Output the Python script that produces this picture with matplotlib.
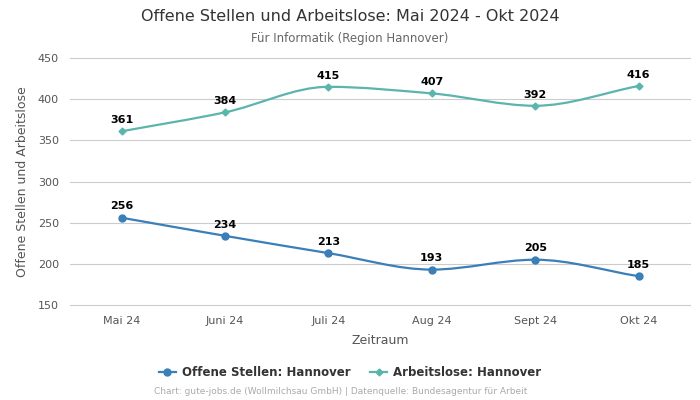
import numpy as np
import matplotlib.pyplot as plt
from matplotlib.path import Path
from matplotlib.patches import PathPatch
from matplotlib.lines import Line2D

# ==========================
# DATA
# ==========================
months = ["Mai 24", "Juni 24", "Juli 24", "Aug 24", "Sept 24", "Okt 24"]
offene_stellen = [256, 234, 213, 193, 205, 185]
arbeitslose = [361, 384, 415, 407, 392, 416]

BLUE = "#3a7fb8"
TEAL = "#5bb5ad"


def monotone_path(x, y):
    # monotone cubic (Fritsch-Carlson) as bezier path
    x = np.asarray(x, float)
    y = np.asarray(y, float)
    h = np.diff(x)
    d = np.diff(y) / h
    m = np.zeros_like(y)
    m[0], m[-1] = d[0], d[-1]
    for i in range(1, len(y) - 1):
        if d[i - 1] * d[i] <= 0:
            m[i] = 0
        else:
            m[i] = 3 * (h[i - 1] + h[i]) / ((2 * h[i] + h[i - 1]) / d[i - 1] + (h[i] + 2 * h[i - 1]) / d[i])
    verts = [(x[0], y[0])]
    codes = [Path.MOVETO]
    for i in range(len(x) - 1):
        verts += [(x[i] + h[i] / 3, y[i] + m[i] * h[i] / 3),
                  (x[i + 1] - h[i] / 3, y[i + 1] - m[i + 1] * h[i] / 3),
                  (x[i + 1], y[i + 1])]
        codes += [Path.CURVE4] * 3
    return Path(verts, codes)


fig = plt.figure(figsize=(7, 4), dpi=100)
ax = fig.add_axes([0.1, 0.2375, 0.886, 0.6175])

xs = np.arange(len(months))
for vals, color, marker, ms in [(offene_stellen, BLUE, "o", 5), (arbeitslose, TEAL, "D", 3.5)]:
    ax.add_patch(PathPatch(monotone_path(xs, vals), fill=False, edgecolor=color, lw=1.6))
    ax.plot(xs, vals, linestyle="none", marker=marker, color=color, markersize=ms, zorder=3)
    for x, v in zip(xs, vals):
        ax.annotate(str(v), (x, v), xytext=(0, 4.5), textcoords="offset points",
                    ha="center", va="bottom", fontsize=8, fontweight="bold", color="black")

ax.set_xlim(-0.5, 5.5)
ax.set_ylim(150, 450)
ax.set_yticks(range(150, 451, 50))
ax.set_xticks(xs)
ax.set_xticklabels(months)
ax.tick_params(axis="both", length=0, labelsize=8, colors="#555555", pad=8)
ax.grid(axis="y", color="#cccccc", linewidth=0.8)
for gl in ax.get_ygridlines():
    gl.set_clip_on(False)
ax.set_axisbelow(True)
for s in ax.spines.values():
    s.set_visible(False)
ax.set_xlabel("Zeitraum", fontsize=9, color="#555555", labelpad=6)
ax.set_ylabel("Offene Stellen und Arbeitslose", fontsize=9, color="#555555", labelpad=6)

fig.text(0.5, 0.958, "Offene Stellen und Arbeitslose: Mai 2024 - Okt 2024",
         ha="center", va="center", fontsize=11.5, color="#333333")
fig.text(0.5, 0.903, "Für Informatik (Region Hannover)", ha="center", va="center",
         fontsize=8.5, color="#666666")

handles = [Line2D([], [], color=BLUE, marker="o", markersize=5, lw=1.6),
           Line2D([], [], color=TEAL, marker="D", markersize=3.5, lw=1.6)]
leg = fig.legend(handles, ["Offene Stellen: Hannover", "Arbeitslose: Hannover"],
                 loc="center", bbox_to_anchor=(0.5, 0.068), ncol=2, frameon=False,
                 prop={"size": 8.5, "weight": "bold"}, handlelength=1.5, columnspacing=1.6,
                 handletextpad=0.5)
for t in leg.get_texts():
    t.set_color("#333333")

fig.text(0.486, 0.02, "Chart: gute-jobs.de (Wollmilchsau GmbH) | Datenquelle: Bundesagentur für Arbeit",
         ha="center", va="center", fontsize=6.5, color="#aaaaaa")

fig.savefig("out.png", dpi=100)
